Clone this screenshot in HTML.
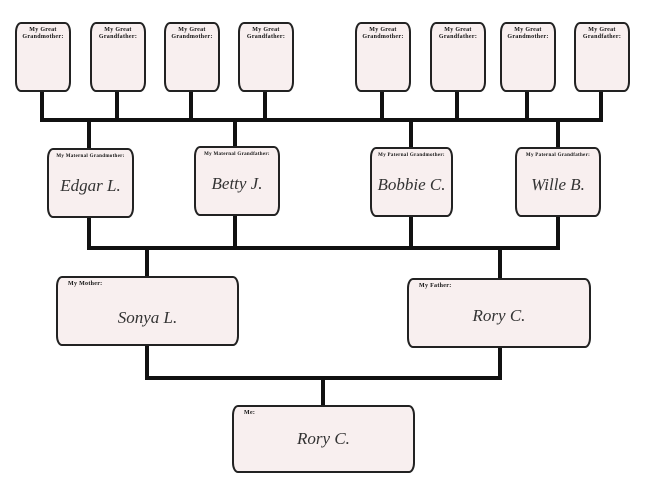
<!DOCTYPE html>
<html><head><style>
body{margin:0;background:#fff;width:647px;height:489px;overflow:hidden;position:relative;font-family:"Liberation Serif",serif}
.b{position:absolute;background:#f8efef;border:2.5px solid #222;border-radius:6px/10px;box-sizing:border-box}
.l{position:absolute;font-size:6px;font-weight:bold;text-align:center;width:100%;top:3px;line-height:7px;color:#111;letter-spacing:0.3px}
.ll{text-align:left;left:10px}
.n{position:absolute;width:100%;text-align:center;font-style:italic;color:#333;font-size:17px;white-space:nowrap}
.h{position:absolute;background:#111}
</style></head><body>
<div class="h" style="left:40px;top:118px;width:563px;height:4px"></div>
<div class="h" style="left:40px;top:90px;width:4px;height:30px"></div>
<div class="h" style="left:115px;top:90px;width:4px;height:30px"></div>
<div class="h" style="left:189px;top:90px;width:4px;height:30px"></div>
<div class="h" style="left:263px;top:90px;width:4px;height:30px"></div>
<div class="h" style="left:380px;top:90px;width:4px;height:30px"></div>
<div class="h" style="left:455px;top:90px;width:4px;height:30px"></div>
<div class="h" style="left:525px;top:90px;width:4px;height:30px"></div>
<div class="h" style="left:599px;top:90px;width:4px;height:30px"></div>
<div class="h" style="left:87px;top:120px;width:4px;height:30px"></div>
<div class="h" style="left:233px;top:120px;width:4px;height:30px"></div>
<div class="h" style="left:409px;top:120px;width:4px;height:30px"></div>
<div class="h" style="left:556px;top:120px;width:4px;height:30px"></div>
<div class="h" style="left:87px;top:216px;width:4px;height:34px"></div>
<div class="h" style="left:233px;top:216px;width:4px;height:34px"></div>
<div class="h" style="left:409px;top:216px;width:4px;height:34px"></div>
<div class="h" style="left:556px;top:216px;width:4px;height:34px"></div>
<div class="h" style="left:87px;top:246px;width:473px;height:4px"></div>
<div class="h" style="left:145px;top:248px;width:4px;height:30px"></div>
<div class="h" style="left:498px;top:248px;width:4px;height:32px"></div>
<div class="h" style="left:145px;top:344px;width:4px;height:36px"></div>
<div class="h" style="left:498px;top:346px;width:4px;height:34px"></div>
<div class="h" style="left:145px;top:376px;width:357px;height:4px"></div>
<div class="h" style="left:321px;top:378px;width:4px;height:30px"></div>
<div class="b" style="left:15px;top:22px;width:56px;height:70px"><div class="l">My Great<br>Grandmother:</div></div>
<div class="b" style="left:90px;top:22px;width:56px;height:70px"><div class="l">My Great<br>Grandfather:</div></div>
<div class="b" style="left:164px;top:22px;width:56px;height:70px"><div class="l">My Great<br>Grandmother:</div></div>
<div class="b" style="left:238px;top:22px;width:56px;height:70px"><div class="l">My Great<br>Grandfather:</div></div>
<div class="b" style="left:355px;top:22px;width:56px;height:70px"><div class="l">My Great<br>Grandmother:</div></div>
<div class="b" style="left:430px;top:22px;width:56px;height:70px"><div class="l">My Great<br>Grandfather:</div></div>
<div class="b" style="left:500px;top:22px;width:56px;height:70px"><div class="l">My Great<br>Grandmother:</div></div>
<div class="b" style="left:574px;top:22px;width:56px;height:70px"><div class="l">My Great<br>Grandfather:</div></div>
<div class="b" style="left:47px;top:148px;width:87px;height:70px"><div class="l" style="font-size:5px">My Maternal Grandmother:</div><div class="n" style="top:26px">Edgar L.</div></div>
<div class="b" style="left:194px;top:146px;width:86px;height:70px"><div class="l" style="font-size:5px">My Maternal Grandfather:</div><div class="n" style="top:26px">Betty J.</div></div>
<div class="b" style="left:370px;top:147px;width:83px;height:70px"><div class="l" style="font-size:5px">My Paternal Grandmother:</div><div class="n" style="top:26px">Bobbie C.</div></div>
<div class="b" style="left:515px;top:147px;width:86px;height:70px"><div class="l" style="font-size:5px">My Paternal Grandfather:</div><div class="n" style="top:26px">Wille B.</div></div>
<div class="b" style="left:56px;top:276px;width:183px;height:70px"><div class="l ll">My Mother:</div><div class="n" style="top:30px">Sonya L.</div></div>
<div class="b" style="left:407px;top:278px;width:184px;height:70px"><div class="l ll">My Father:</div><div class="n" style="top:26px">Rory C.</div></div>
<div class="b" style="left:232px;top:405px;width:183px;height:68px"><div class="l ll">Me:</div><div class="n" style="top:22px">Rory C.</div></div>
</body></html>
